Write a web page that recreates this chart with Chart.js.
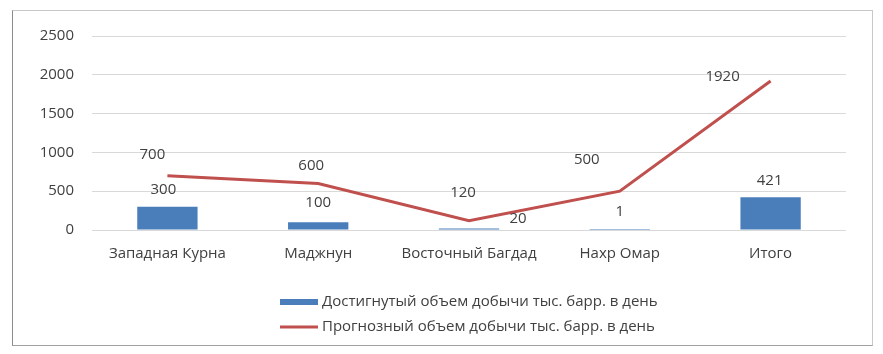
<!DOCTYPE html>
<html>
<head>
<meta charset="utf-8">
<script src="https://cdn.jsdelivr.net/npm/chart.js@4/dist/chart.umd.min.js"></script>
<style>
  body { margin: 0; background: #fff; }
  #wrap { position: relative; width: 883px; height: 354px; }
  #frame {
    position: absolute; left: 12px; top: 10px; width: 859px; height: 334px;
    border: 1px solid #c8c8c8; border-left-color: #8c8c8c; border-bottom-color: #a0a0a0;
  }
  canvas { position: absolute; left: 0; top: 0; }
</style>
</head>
<body>
<div id="wrap">
  <div id="frame"></div>
  <canvas id="chart" width="883" height="354"></canvas>
</div>
<script>
const categories = ["Западная Курна", "Маджнун", "Восточный Багдад", "Нахр Омар", "Итого"];
const achieved = [300, 100, 20, 1, 421];
const forecast = [700, 600, 120, 500, 1920];
const yTicks = [0, 500, 1000, 1500, 2000, 2500];
const achievedLabel = "Достигнутый объем добычи тыс. барр. в день";
const forecastLabel = "Прогнозный объем добычи тыс. барр. в день";

const fontFamily = "'Open Sans', sans-serif";
const fontSize = 15;
const textColor = "#404040";

// label nudges in pixels (where the original labels were dragged)
const barLabelShift = [[-4, -17], [0, -20], [49, -10], [0, -18], [-1, -17]];
const lineLabelShift = [[-15, -21], [-7, -18], [-6, -28], [-33, -31], [-48, -4]];

const labelsAndLegend = {
  id: "labelsAndLegend",
  afterDatasetsDraw(chart) {
    const ctx = chart.ctx;
    ctx.save();
    ctx.font = fontSize + "px " + fontFamily;
    ctx.fillStyle = textColor;
    ctx.textAlign = "center";
    ctx.textBaseline = "middle";
    chart.getDatasetMeta(0).data.forEach((bar, i) => {
      const s = barLabelShift[i];
      ctx.fillText(String(achieved[i]), bar.x + s[0], bar.y + s[1]);
    });
    chart.getDatasetMeta(1).data.forEach((pt, i) => {
      const s = lineLabelShift[i];
      ctx.fillText(String(forecast[i]), pt.x + s[0], pt.y + s[1]);
    });

    // legend, stacked
    ctx.textAlign = "left";
    ctx.fillStyle = "#4a7ebb";
    ctx.fillRect(280, 299, 38, 6);
    ctx.strokeStyle = "#c0504d";
    ctx.lineWidth = 3;
    ctx.beginPath();
    ctx.moveTo(280, 327);
    ctx.lineTo(318, 327);
    ctx.stroke();
    ctx.fillStyle = textColor;
    ctx.fillText(achievedLabel, 322, 302);
    ctx.fillText(forecastLabel, 322, 327);
    ctx.restore();
  }
};

new Chart(document.getElementById("chart"), {
  type: "bar",
  data: {
    labels: categories,
    datasets: [
      {
        label: achievedLabel,
        data: achieved,
        backgroundColor: "#4a7ebb",
        categoryPercentage: 1,
        barPercentage: 0.4,
        order: 2,
      },
      {
        type: "line",
        label: forecastLabel,
        data: forecast,
        borderColor: "#c0504d",
        borderWidth: 3,
        pointRadius: 0,
        tension: 0,
        fill: false,
        order: 1,
      },
    ],
  },
  options: {
    responsive: false,
    animation: false,
    layout: { padding: { left: 0, right: 37, top: 36, bottom: 0 } },
    plugins: { legend: { display: false }, tooltip: { enabled: false } },
    scales: {
      y: {
        min: 0,
        max: 2500,
        afterFit: (scale) => { scale.width = 92; },
        afterBuildTicks: (scale) => { scale.ticks = yTicks.map((v) => ({ value: v })); },
        border: { display: false },
        grid: { color: "#d9d9d9", drawTicks: false },
        ticks: {
          color: textColor,
          padding: 18,
          font: { family: fontFamily, size: fontSize },
          callback: (v) => String(v),
        },
      },
      x: {
        afterFit: (scale) => { scale.height = 124; },
        border: { display: false },
        grid: { display: false, drawTicks: false },
        ticks: { color: textColor, padding: 15, font: { family: fontFamily, size: fontSize } },
      },
    },
  },
  plugins: [labelsAndLegend],
});
</script>
</body>
</html>
